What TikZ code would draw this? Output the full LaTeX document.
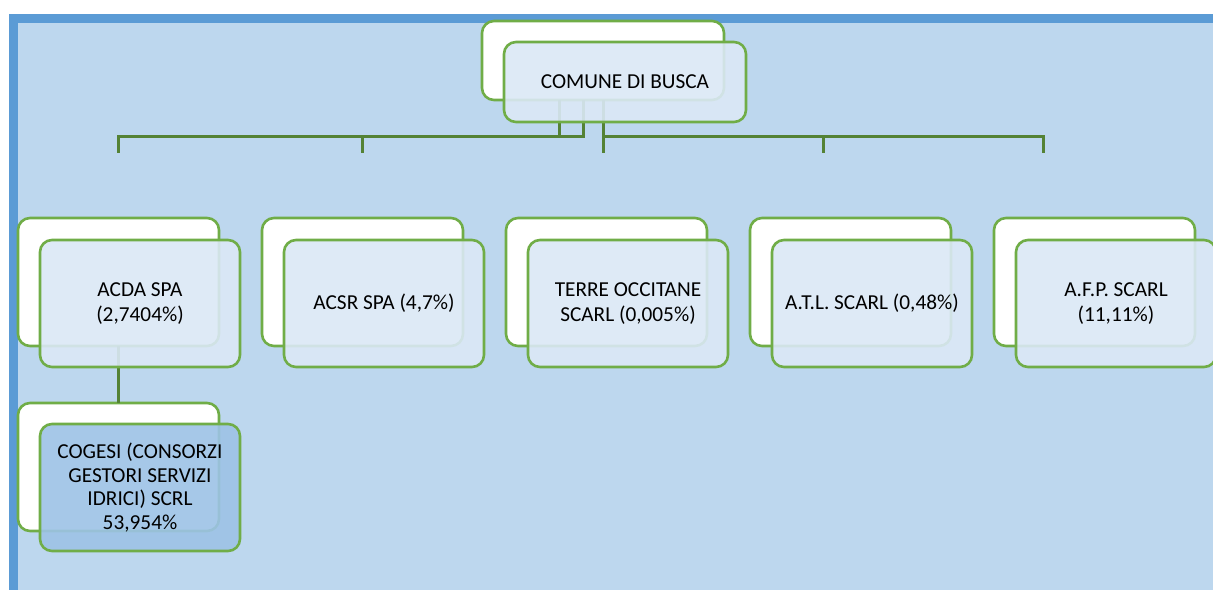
\documentclass[tikz,border=0pt]{standalone}
\usepackage{fontspec}
\setmainfont{Carlito}
\definecolor{frameblue}{HTML}{5B9BD5}
\definecolor{bgblue}{HTML}{BDD7EE}
\definecolor{boxgreen}{HTML}{70AD47}
\definecolor{linegreen}{HTML}{548235}
\definecolor{frontfill}{RGB}{219,232,246}
\definecolor{darkfill}{HTML}{9DC3E6}
\tikzset{
  backbox/.style={draw=boxgreen, line width=2.6pt, fill=white, rounded corners=12pt, anchor=north west, inner sep=0pt, outer sep=0pt},
  frontbox/.style={draw=boxgreen, line width=2.6pt, fill=frontfill, fill opacity=0.9, text opacity=1, rounded corners=12pt, anchor=north west, inner sep=0pt, outer sep=0pt, align=center, font=\fontsize{21.3}{25}\selectfont},
  childsize/.style={minimum width=201pt, minimum height=128pt},
  frontsize/.style={minimum width=200pt, minimum height=127pt},
  conn/.style={draw=linegreen, line width=3pt}
}
\begin{document}
\begin{tikzpicture}[x=1pt,y=-1pt]
\useasboundingbox (0,0) rectangle (1213,590);
\fill[frameblue] (9,14) rectangle (1213,590);
\fill[bgblue] (18,23) rectangle (1213,590);
% back boxes
\node[backbox, minimum width=242pt, minimum height=79pt] (pb) at (482,21) {};
\node[backbox, childsize] (b1) at (18,218) {};
\node[backbox, childsize] (b2) at (262,218) {};
\node[backbox, childsize] (b3) at (506,218) {};
\node[backbox, childsize] (b4) at (750,218) {};
\node[backbox, childsize] (b5) at (994,218) {};
\node[backbox, childsize] (g1) at (18,403) {};
% connectors
\coordinate (j1) at (559,136);
\coordinate (j2) at (583,136);
\coordinate (j3) at (603,136);
\coordinate (t1) at (118,153);
\coordinate (t2) at (362,153);
\coordinate (t3) at (603,153);
\coordinate (t4) at (823,153);
\coordinate (t5) at (1043,153);
\draw[conn] (pb.south -| j1) -- (j1) -| (t1);
\draw[conn] (pb.south -| j2) -- (j2) -| (t2);
\draw[conn] (pb.south -| t3) -- (t3);
\draw[conn] (j3) -| (t4);
\draw[conn] (j3) -| (t5);
\draw[conn] (b1.south) -- (g1.north);
% front boxes
\node[frontbox, minimum width=242pt, minimum height=80pt] (pf) at (504,42) {COMUNE DI BUSCA};
\node[frontbox, frontsize] (f1) at (40,240) {ACDA SPA\\(2,7404\%)};
\node[frontbox, frontsize] (f2) at (284,240) {ACSR SPA (4,7\%)};
\node[frontbox, frontsize] (f3) at (528,240) {TERRE OCCITANE\\SCARL (0,005\%)};
\node[frontbox, frontsize] (f4) at (772,240) {A.T.L. SCARL (0,48\%)};
\node[frontbox, frontsize] (f5) at (1016,240) {A.F.P. SCARL\\(11,11\%)};
\node[frontbox, frontsize, fill=darkfill, font=\fontsize{21.3}{23.5}\selectfont] (gf) at (40,424) {COGESI (CONSORZI\\GESTORI SERVIZI\\IDRICI) SCRL\\53,954\%};
\end{tikzpicture}
\end{document}
